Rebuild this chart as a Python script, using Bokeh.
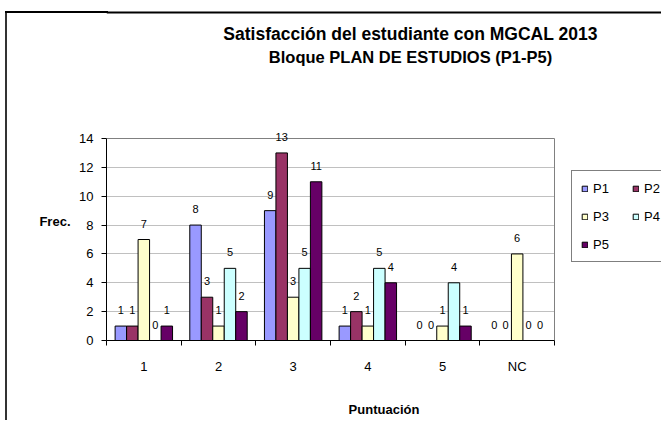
from bokeh.plotting import figure
from bokeh.models import (ColumnDataSource, Range1d, FixedTicker, LabelSet, Label, Legend,
                          LegendItem, Grid, LinearAxis)
from bokeh.embed import file_html
from bokeh.resources import INLINE
from bokeh.core.properties import value

# ---- data ----
categories = ["1", "2", "3", "4", "5", "NC"]
series = ["P1", "P2", "P3", "P4", "P5"]
p1 = [1, 8, 9, 1, 0, 0]
p2 = [1, 3, 13, 2, 0, 0]
p3 = [7, 1, 3, 1, 1, 6]
p4 = [0, 5, 5, 5, 4, 0]
p5 = [1, 2, 11, 4, 1, 0]
colors = ["#9999FF", "#993366", "#FFFFCC", "#CCFFFF", "#660066"]
y_ticks = [0, 2, 4, 6, 8, 10, 12, 14]
title_lines = ["Satisfacción del estudiante con MGCAL 2013", "Bloque PLAN DE ESTUDIOS (P1-P5)"]
x_label = "Puntuación"
y_label = "Frec."

# ---- layout (pixels) ----
FONT = "Liberation Sans"
W, H = 656, 420
FL = 101           # y axis (frame left) in canvas px
PR = 549           # right edge of the plot area in canvas px
PT = 138           # top of the plot area (y = 14) in canvas px
FB = 340           # x axis in canvas px
TOP_LINE = 12      # outer chart border (top line) in canvas px
FREC_Y = 8.25      # vertical place of the "Frec." title, in axis units
ncat = len(categories)
ymax = y_ticks[-1]
# the frame spans the canvas above the axis and right of the y axis,
# so that titles and legend are drawn inside it (not clipped)
px_per_x = (PR - FL) / ncat
px_per_y = (FB - PT) / ymax
x_end = (W - FL) / px_per_x
y_end = FB / px_per_y
y_top_line = (FB - TOP_LINE) / px_per_y

p = figure(width=W, height=H, output_backend="svg", toolbar_location=None,
           x_range=Range1d(0, x_end), y_range=Range1d(0, y_end),
           min_border_left=FL, min_border_right=0, min_border_top=0, min_border_bottom=H - FB)
# outer chart border: left line and the left part of the top line, behind a transparent canvas
p.styles = {"margin-left": "5px", "margin-bottom": "-13px",
            "background": ("linear-gradient(#000000,#000000) 0px 11px / %dpx 2px no-repeat, "
                           "linear-gradient(#333333,#333333) 0px 11px / 2px %dpx no-repeat, "
                           "#ffffff") % (FL + 2, H)}
p.background_fill_color = None
p.border_fill_color = None
p.outline_line_color = None

# y axis
p.yaxis.ticker = FixedTicker(ticks=y_ticks, minor_ticks=[])
p.yaxis.bounds = (0, ymax)
p.yaxis.major_tick_out = 5
p.yaxis.major_tick_in = 0
p.yaxis.minor_tick_out = 0
p.yaxis.minor_tick_in = 0
p.yaxis.major_label_standoff = 8
p.yaxis.major_label_text_font = FONT
p.yaxis.major_label_text_font_size = "13px"
p.yaxis.major_label_text_color = "black"
p.yaxis.axis_line_color = "black"
p.yaxis.major_tick_line_color = "black"

# x axis
centers = [i + 0.5 for i in range(ncat)]
p.xaxis.ticker = FixedTicker(ticks=centers, minor_ticks=list(range(ncat + 1)))
p.xaxis.bounds = (0, ncat)
p.xaxis.major_label_overrides = {c: lab for c, lab in zip(centers, categories)}
p.xaxis.major_tick_out = 0
p.xaxis.major_tick_in = 0
p.xaxis.minor_tick_out = 5
p.xaxis.minor_tick_in = 0
p.xaxis.minor_tick_line_color = "black"
p.xaxis.axis_line_color = "black"
p.xaxis.major_label_standoff = 13
p.xaxis.major_label_text_font = FONT
p.xaxis.major_label_text_font_size = "13px"
p.xaxis.major_label_text_color = "black"
p.xaxis.axis_label = x_label
p.xaxis.axis_label_text_font = FONT
p.xaxis.axis_label_text_font_style = "bold"
p.xaxis.axis_label_text_font_size = "13px"
p.xaxis.axis_label_text_color = "black"
p.xaxis.axis_label_standoff = 25

# "Frec." title beside the value axis
frec_axis = LinearAxis(ticker=FixedTicker(ticks=[FREC_Y], minor_ticks=[]),
                       major_label_overrides={FREC_Y: y_label},
                       axis_line_color=None, major_tick_line_color=None,
                       minor_tick_line_color=None,
                       major_tick_out=0, major_tick_in=0, minor_tick_out=0, minor_tick_in=0,
                       major_label_standoff=6, major_label_text_font=FONT,
                       major_label_text_font_style="bold", major_label_text_font_size="13px",
                       major_label_text_color="black")
p.add_layout(frec_axis, "left")

# grid lines, plot-area border and the outer top border line
p.xgrid.visible = False
p.ygrid.visible = False
grid_specs = [
    (1, y_ticks[1:-1], "#c0c0c0", (0, ncat), 1, (0, ymax)),
    (1, [ymax], "#808080", (0, ncat), 1, (0, ymax)),
    (0, [ncat], "#808080", (0, ymax), 1, (0, ncat)),
    (1, [y_top_line], "#000000", (0, x_end), 2, (0, y_end)),
]
for dim, ticks, col, cb, lw, bnd in grid_specs:
    p.add_layout(Grid(dimension=dim, ticker=FixedTicker(ticks=ticks, minor_ticks=[]),
                      bounds=bnd, cross_bounds=cb, grid_line_color=col, grid_line_width=lw))

# bars
data = [p1, p2, p3, p4, p5]
w = 1 / 6.5
items = []
for j, (name, vals, col) in enumerate(zip(series, data, colors)):
    xs = [c + (j - 2) * w for c in centers]
    src = ColumnDataSource(dict(x=xs, top=vals, label=[str(v) for v in vals]))
    r = p.vbar(x="x", top="top", bottom=0, width=w, source=src,
               fill_color=col, line_color="black", line_width=1)
    items.append(LegendItem(label=name, renderers=[r]))
    p.add_layout(LabelSet(x="x", y="top", text="label", source=src, y_offset=16,
                          text_align="center", text_baseline="middle",
                          text_font=value(FONT), text_font_size="11px", text_color="black"))

legend = Legend(items=items, location=(465, 78), orientation="horizontal", ncols=2,
                glyph_width=7, glyph_height=7, label_standoff=5, label_width=27,
                label_height=16, spacing=12, padding=9, margin=0,
                border_line_color="black", border_line_width=1,
                background_fill_color="white", background_fill_alpha=1,
                label_text_font=FONT, label_text_font_size="13px", label_text_color="black")
p.add_layout(legend)

# titles (screen units relative to the frame)
title_cx = 405
for txt, cy, fs in zip(title_lines, [33, 56], ["17.5px", "16.5px"]):
    p.add_layout(Label(x=title_cx - FL, y=FB - cy, x_units="screen", y_units="screen",
                       text=txt, text_align="center", text_baseline="middle",
                       text_font=FONT, text_font_style="bold", text_font_size=fs,
                       text_color="black"))

open("out.html", "w").write(file_html(p, INLINE))
